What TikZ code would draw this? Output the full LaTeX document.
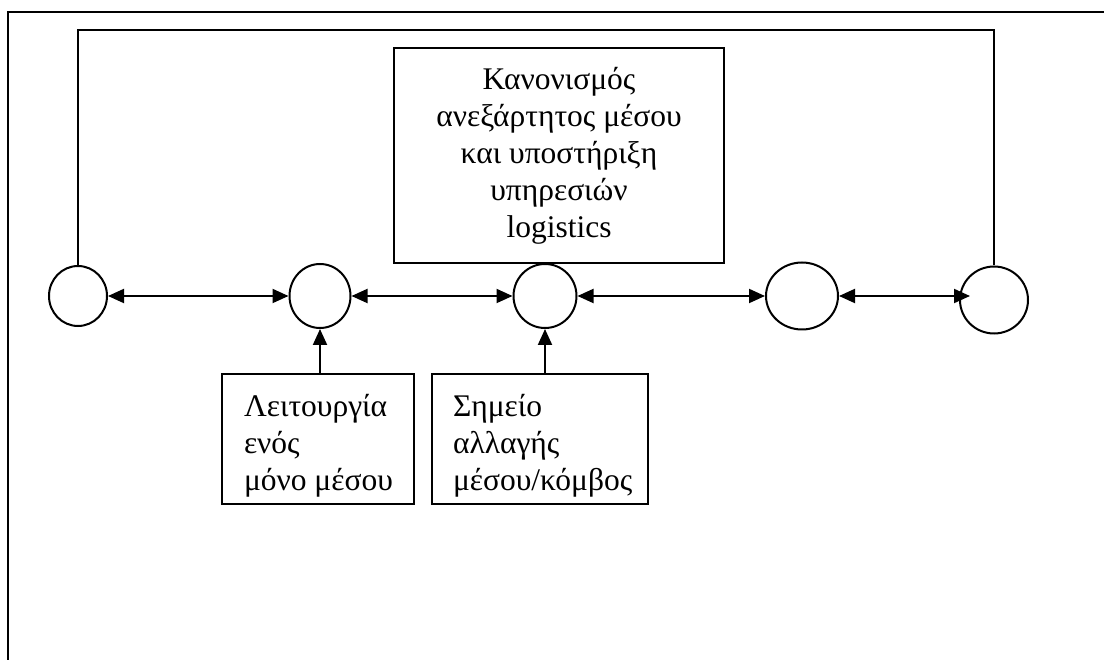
\documentclass[tikz,border=0pt]{standalone}
\usepackage{fontspec}
\setmainfont{Liberation Serif}
\usetikzlibrary{arrows.meta,shapes.geometric,calc}

\begin{document}
\begin{tikzpicture}[x=1pt,y=-1pt,
  every path/.style={line width=2pt},
  head/.style={Triangle[length=16pt,width=14pt]},
  link/.style={draw,line width=2pt,{Triangle[length=16pt,width=14pt]}-{Triangle[length=16pt,width=14pt]}},
  feed/.style={draw,line width=2pt,-{Triangle[length=16pt,width=14pt]}},
  stop/.style={ellipse,draw,line width=2pt,inner sep=0pt},
  panel/.style={rectangle,draw,line width=2pt,inner sep=0pt},
  caption/.style={font=\fontsize{31.5}{37}\selectfont,inner sep=0pt}
]
\useasboundingbox (0,0) rectangle (1104,660);

% page frame (open on the right and bottom)
\coordinate (fb) at (8,660);
\coordinate (ft) at (8,12);
\coordinate (fr) at (1104,12);
\draw[line width=2.3pt] (fb) -- (ft) -- (fr);

% chain of transport stops
\node[stop,minimum width=58pt,minimum height=60pt] (c1) at (78,296) {};
\node[stop,minimum width=61pt,minimum height=64pt] (c2) at (320,296) {};
\node[stop,minimum width=63pt,minimum height=64pt] (c3) at (545,296) {};
\node[stop,minimum width=72pt,minimum height=67pt] (c4) at (802,296) {};
\node[stop,minimum width=68pt,minimum height=67pt] (c5) at (994,300) {};

% independent regulation box
\node[panel,minimum width=330pt,minimum height=215pt,align=center,
      font=\fontsize{31.5}{37}\selectfont] (reg) at (559,155.5)
  {Κανονισμός\\ανεξάρτητος μέσου\\και υποστήριξη\\υπηρεσιών\\logistics};

% lower boxes
\node[panel,minimum width=192pt,minimum height=130pt] (b1) at (318,439) {};
\node[panel,minimum width=216pt,minimum height=130pt] (b2) at (540,439) {};
\node[caption,align=left,anchor=north west] (t1) at (243,393)
  {Λειτουργία\\ενός\\μόνο μέσου};
\node[caption,align=left,anchor=north west] (t2) at (452,393)
  {Σημείο\\αλλαγής\\μέσου/κόμβος};

% links between stops
\coordinate (c5in) at (970,296);
\draw[link] (c1) -- (c2);
\draw[link] (c2) -- (c3);
\draw[link] (c3) -- (c4);
\draw[link] (c4) -- (c5in);

% feedback loop over the top
\coordinate (lt) at (78,30);
\coordinate (rt) at (994,30);
\draw (c1.north) -- (lt) -- (rt) -- (c5.north);

% boxes feeding the stops
\draw[feed] (c2 |- b1.north) -- (c2.south);
\draw[feed] (c3 |- b2.north) -- (c3.south);
\end{tikzpicture}
\end{document}
